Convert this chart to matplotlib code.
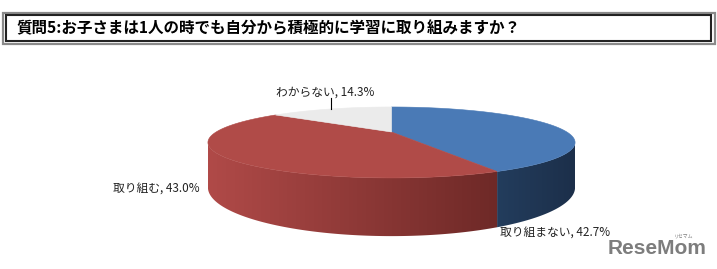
import numpy as np
import matplotlib.pyplot as plt
from matplotlib.patches import Polygon, Rectangle
from matplotlib.colors import LinearSegmentedColormap

plt.rcParams['font.family'] = ['Noto Sans CJK JP', 'DejaVu Sans']

title = "質問5:お子さまは1人の時でも自分から積極的に学習に取り組みますか？"
labels = ["取り組まない", "取り組む", "わからない"]
values = [42.7, 43.0, 14.3]

top_colors = ["#4A7AB6", "#B04B48", "#EBEBEB"]
side_colors = [("#233D5D", "#1C2F4A"), ("#B04A48", "#6E2927"), ("#D0D0D0", "#B0B0B0")]
label_pos = [(500, 233, "left"), (113, 189, "left"), (325, 92, "center")]

# 3D pie geometry (pixels), simple perspective
CX, CY = 391.5, 132.0
A, B = 175.4, 32.4
K = 0.295
H = 41.0


def proj(th, h=0.0):
    s = 1.0 / (1.0 + K * np.cos(th))
    x = CX + A * np.sin(th) * s
    y = CY - B * np.cos(th) * s + h * H * s
    return x, y


fig = plt.figure(figsize=(7.17, 2.69), dpi=100)
ax = fig.add_axes([0, 0, 1, 1])

angles = np.concatenate([[0], np.cumsum(values)]) / sum(values) * 2 * np.pi
vis0 = np.arccos(-K)
vis1 = 2 * np.pi - vis0

# side walls
for i in range(len(values)):
    a0, a1 = max(angles[i], vis0), min(angles[i + 1], vis1)
    if a1 <= a0:
        continue
    th = np.linspace(a0, a1, 120)
    xt, yt = proj(th)
    xb, yb = proj(th, 1)
    pts = np.column_stack([np.r_[xt, xb[::-1]], np.r_[yt, yb[::-1]]])
    poly = Polygon(pts, closed=True, facecolor="none", edgecolor="none")
    ax.add_patch(poly)
    cmap = LinearSegmentedColormap.from_list("s%d" % i, [side_colors[i][1], side_colors[i][0]])
    grad = np.linspace(0, 1, 256).reshape(1, -1)
    ax.imshow(grad[:, ::-1], cmap=cmap, extent=(pts[:, 0].min(), pts[:, 0].max(), pts[:, 1].max() + 1, pts[:, 1].min() - 1),
              aspect="auto", clip_path=poly, interpolation="bilinear", zorder=2)

# top faces
for i in range(len(values)):
    th = np.linspace(angles[i], angles[i + 1], 120)
    xt, yt = proj(th)
    pts = np.column_stack([np.r_[CX, xt], np.r_[CY, yt]])
    ax.add_patch(Polygon(pts, closed=True, facecolor=top_colors[i], edgecolor=top_colors[i], lw=0.4, zorder=3))

# labels
for i, (lab, v) in enumerate(zip(labels, values)):
    x, y, ha = label_pos[i]
    ax.text(x, y, "%s, %.1f%%" % (lab, v), ha=ha, va="center", fontsize=8.5, color="#222222", zorder=5)
mid = (angles[2] + angles[3]) / 2
mx, my = proj(mid)
ax.plot([mx, mx], [my, 98], color="black", lw=0.8, zorder=4)

# title box
ax.add_patch(Rectangle((3, 12.5), 712, 31, facecolor="none", edgecolor="#8a8a8a", lw=1.6))
ax.add_patch(Rectangle((6, 15), 705, 26, facecolor="none", edgecolor="#222222", lw=1.5))
ax.text(16, 28.5, title, ha="left", va="center", fontsize=11.2, fontweight="bold", color="black")

# watermark
ax.text(608, 248, "ReseMom", family="Liberation Sans", fontweight="bold", fontsize=15,
        color="#7d7d7d", ha="left", va="center")
ax.text(684, 236, "リセマム", fontsize=3.5, color="#7d7d7d", ha="center", va="center")

ax.set_xlim(0, 717)
ax.set_ylim(269, 0)
ax.axis("off")
fig.savefig("out.png", dpi=100)
